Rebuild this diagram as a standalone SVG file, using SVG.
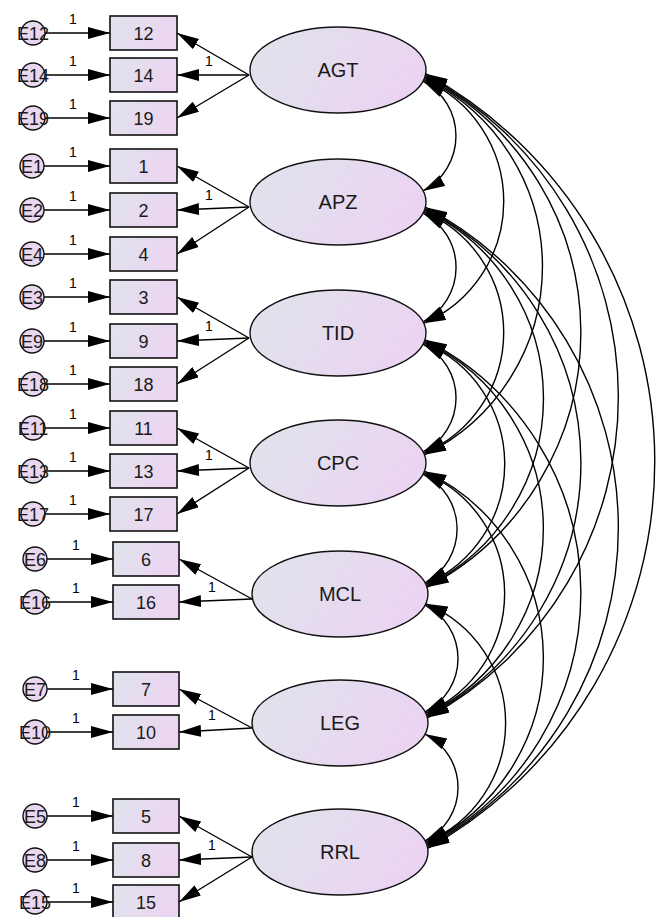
<svg xmlns="http://www.w3.org/2000/svg" width="659" height="917" viewBox="0 0 659 917">
<defs>
<linearGradient id="gb" x1="0" y1="0" x2="1" y2="0.3">
<stop offset="0" stop-color="#dfe4ed"/><stop offset="1" stop-color="#ecd5f1"/>
</linearGradient>
<linearGradient id="ge" x1="0" y1="0" x2="1" y2="0.3">
<stop offset="0" stop-color="#dfe4eb"/><stop offset="1" stop-color="#ebd4f2"/>
</linearGradient>
<marker id="ah" viewBox="0 0 22 12" refX="22" refY="6" markerWidth="22" markerHeight="12" markerUnits="userSpaceOnUse" orient="auto-start-reverse">
<path d="M0,0 L22,6 L0,12 z" fill="#000"/>
</marker>
</defs>
<style>
.box{fill:url(#gb);stroke:#111;stroke-width:1.6}
.lat{fill:url(#ge);stroke:#111;stroke-width:1.4}
.err{fill:#e9d6ef;stroke:#111;stroke-width:1.4}
.t{font-family:"Liberation Sans",Arial,sans-serif;fill:#1a1a1a;text-anchor:middle}
.bt{font-size:18px}
.lt{font-size:20px}
.et{font-size:18px}
.one{font-family:"Liberation Sans",Arial,sans-serif;font-size:14px;fill:#000;text-anchor:middle}
.ar{fill:none;stroke:#000;stroke-width:1.4;marker-end:url(#ah)}
.cv{fill:none;stroke:#000;stroke-width:1.4;marker-start:url(#ah);marker-end:url(#ah)}
</style>
<rect width="659" height="917" fill="#fff"/>

<g id="connectors">
<path class="ar" d="M45,33 H110"/><path class="ar" d="M45,75 H110"/><path class="ar" d="M45,118 H110"/>
<path class="ar" d="M44,166 H110"/><path class="ar" d="M44,210 H110"/><path class="ar" d="M44,254 H110"/>
<path class="ar" d="M44,297 H110"/><path class="ar" d="M44,341 H110"/><path class="ar" d="M45,384 H110"/>
<path class="ar" d="M45,428 H110"/><path class="ar" d="M45,471 H110"/><path class="ar" d="M45,514 H110"/>
<path class="ar" d="M47,559 H113"/><path class="ar" d="M47,602 H113"/>
<path class="ar" d="M47,689 H113"/><path class="ar" d="M47,732 H113"/>
<path class="ar" d="M47,816 H113"/><path class="ar" d="M47,860 H113"/><path class="ar" d="M47,902 H113"/>
<path class="ar" d="M249,75 L177,33"/><path class="ar" d="M249,75 L177,75"/><path class="ar" d="M249,75 L177,118"/>
<path class="ar" d="M249,207 L177,166"/><path class="ar" d="M249,207 L177,210"/><path class="ar" d="M249,207 L177,254"/>
<path class="ar" d="M249,338 L177,297"/><path class="ar" d="M249,338 L177,341"/><path class="ar" d="M249,338 L177,384"/>
<path class="ar" d="M249,468 L177,428"/><path class="ar" d="M249,468 L177,471"/><path class="ar" d="M249,468 L177,514"/>
<path class="ar" d="M252,599 L179,559"/><path class="ar" d="M252,599 L179,602"/>
<path class="ar" d="M252,728 L179,689"/><path class="ar" d="M252,728 L179,732"/>
<path class="ar" d="M252,857 L179,816"/><path class="ar" d="M252,857 L179,860"/><path class="ar" d="M252,857 L179,902"/>
<path class="cv" d="M423,81.1 A62.2,62.2 0 0 1 423,190.9"/>
<path class="cv" d="M423,213.1 A61.3,61.3 0 0 1 423,321.9"/>
<path class="cv" d="M423,344.1 A60.5,60.5 0 0 1 423,451.9"/>
<path class="cv" d="M423,474.1 A61.3,61.3 0 0 1 425,582.9"/>
<path class="cv" d="M425,605.1 A59.7,59.7 0 0 1 425,711.9"/>
<path class="cv" d="M425,734.1 A59.7,59.7 0 0 1 425,840.9"/>
<path class="cv" d="M423.7,79.7 A132.7,132.7 0 0 1 423.7,323.3"/>
<path class="cv" d="M423.7,211.7 A131.2,131.2 0 0 1 423.7,453.3"/>
<path class="cv" d="M423.7,342.7 A131.2,131.2 0 0 1 425.7,584.3"/>
<path class="cv" d="M423.7,472.7 A130.5,130.5 0 0 1 425.7,713.3"/>
<path class="cv" d="M425.7,603.7 A129,129 0 0 1 425.7,842.3"/>
<path class="cv" d="M424.4,78.2 A209.2,209.2 0 0 1 424.4,454.8"/>
<path class="cv" d="M424.4,210.2 A208.4,208.4 0 0 1 426.4,585.8"/>
<path class="cv" d="M424.4,341.2 A206.9,206.9 0 0 1 426.4,714.8"/>
<path class="cv" d="M424.4,471.2 A206.1,206.1 0 0 1 426.4,843.8"/>
<path class="cv" d="M424.9,76.7 A287.8,287.8 0 0 1 426.9,587.3"/>
<path class="cv" d="M424.9,208.7 A285.3,285.3 0 0 1 426.9,716.3"/>
<path class="cv" d="M424.9,339.7 A283.7,283.7 0 0 1 426.9,845.3"/>
<path class="cv" d="M425.3,75.2 A364.8,364.8 0 0 1 427.3,717.8"/>
<path class="cv" d="M425.3,207.2 A362.3,362.3 0 0 1 427.3,846.8"/>
<path class="cv" d="M425.7,73.7 A442.9,442.9 0 0 1 427.7,848.3"/>
<g class="one">
<text x="73" y="24">1</text><text x="73" y="66">1</text><text x="73" y="109">1</text>
<text x="73" y="157">1</text><text x="73" y="201">1</text><text x="73" y="245">1</text>
<text x="73" y="288">1</text><text x="73" y="332">1</text><text x="73" y="375">1</text>
<text x="73" y="419">1</text><text x="73" y="462">1</text><text x="73" y="505">1</text>
<text x="76" y="550">1</text><text x="76" y="593">1</text>
<text x="76" y="680">1</text><text x="76" y="723">1</text>
<text x="76" y="807">1</text><text x="76" y="851">1</text><text x="76" y="893">1</text>
<text x="209" y="66">1</text><text x="209" y="200">1</text><text x="209" y="331">1</text><text x="209" y="460">1</text>
<text x="212" y="592">1</text><text x="212" y="720">1</text><text x="212" y="850">1</text>
</g>
</g>

<g id="AGT"><ellipse class="lat" cx="338" cy="70" rx="88" ry="43"/><text class="t lt" x="338" y="77">AGT</text></g>
<g id="APZ"><ellipse class="lat" cx="338" cy="202" rx="88" ry="43"/><text class="t lt" x="338" y="209">APZ</text></g>
<g id="TID"><ellipse class="lat" cx="338" cy="333" rx="88" ry="43"/><text class="t lt" x="338" y="340">TID</text></g>
<g id="CPC"><ellipse class="lat" cx="338" cy="463" rx="88" ry="43"/><text class="t lt" x="338" y="470">CPC</text></g>
<g id="MCL"><ellipse class="lat" cx="340" cy="594" rx="88" ry="43"/><text class="t lt" x="340" y="601">MCL</text></g>
<g id="LEG"><ellipse class="lat" cx="340" cy="723" rx="88" ry="43"/><text class="t lt" x="340" y="730">LEG</text></g>
<g id="RRL"><ellipse class="lat" cx="340" cy="852" rx="88" ry="43"/><text class="t lt" x="340" y="859">RRL</text></g>

<g id="v12"><rect class="box" x="110" y="16" width="67" height="34"/><text class="t bt" x="143.5" y="39.5">12</text></g>
<g id="v14"><rect class="box" x="110" y="58" width="67" height="34"/><text class="t bt" x="143.5" y="81.5">14</text></g>
<g id="v19"><rect class="box" x="110" y="101" width="67" height="34"/><text class="t bt" x="143.5" y="124.5">19</text></g>
<g id="v1"><rect class="box" x="110" y="149" width="67" height="34"/><text class="t bt" x="143.5" y="172.5">1</text></g>
<g id="v2"><rect class="box" x="110" y="193" width="67" height="34"/><text class="t bt" x="143.5" y="216.5">2</text></g>
<g id="v4"><rect class="box" x="110" y="237" width="67" height="34"/><text class="t bt" x="143.5" y="260.5">4</text></g>
<g id="v3"><rect class="box" x="110" y="280" width="67" height="34"/><text class="t bt" x="143.5" y="303.5">3</text></g>
<g id="v9"><rect class="box" x="110" y="324" width="67" height="34"/><text class="t bt" x="143.5" y="347.5">9</text></g>
<g id="v18"><rect class="box" x="110" y="367" width="67" height="34"/><text class="t bt" x="143.5" y="390.5">18</text></g>
<g id="v11"><rect class="box" x="110" y="411" width="67" height="34"/><text class="t bt" x="143.5" y="434.5">11</text></g>
<g id="v13"><rect class="box" x="110" y="454" width="67" height="34"/><text class="t bt" x="143.5" y="477.5">13</text></g>
<g id="v17"><rect class="box" x="110" y="497" width="67" height="34"/><text class="t bt" x="143.5" y="520.5">17</text></g>
<g id="v6"><rect class="box" x="113" y="542" width="66" height="34"/><text class="t bt" x="146" y="565.5">6</text></g>
<g id="v16"><rect class="box" x="113" y="585" width="66" height="34"/><text class="t bt" x="146" y="608.5">16</text></g>
<g id="v7"><rect class="box" x="113" y="672" width="66" height="34"/><text class="t bt" x="146" y="695.5">7</text></g>
<g id="v10"><rect class="box" x="113" y="715" width="66" height="34"/><text class="t bt" x="146" y="738.5">10</text></g>
<g id="v5"><rect class="box" x="113" y="799" width="66" height="34"/><text class="t bt" x="146" y="822.5">5</text></g>
<g id="v8"><rect class="box" x="113" y="843" width="66" height="34"/><text class="t bt" x="146" y="866.5">8</text></g>
<g id="v15"><rect class="box" x="113" y="885" width="66" height="34"/><text class="t bt" x="146" y="908.5">15</text></g>

<g id="E12"><circle class="err" cx="33" cy="33" r="12"/><text class="t et" x="33" y="39.5">E12</text></g>
<g id="E14"><circle class="err" cx="33" cy="75" r="12"/><text class="t et" x="33" y="81.5">E14</text></g>
<g id="E19"><circle class="err" cx="33" cy="118" r="12"/><text class="t et" x="33" y="124.5">E19</text></g>
<g id="E1"><circle class="err" cx="32" cy="166" r="12"/><text class="t et" x="32" y="172.5">E1</text></g>
<g id="E2"><circle class="err" cx="32" cy="210" r="12"/><text class="t et" x="32" y="216.5">E2</text></g>
<g id="E4"><circle class="err" cx="32" cy="254" r="12"/><text class="t et" x="32" y="260.5">E4</text></g>
<g id="E3"><circle class="err" cx="32" cy="297" r="12"/><text class="t et" x="32" y="303.5">E3</text></g>
<g id="E9"><circle class="err" cx="32" cy="341" r="12"/><text class="t et" x="32" y="347.5">E9</text></g>
<g id="E18"><circle class="err" cx="33" cy="384" r="12"/><text class="t et" x="33" y="390.5">E18</text></g>
<g id="E11"><circle class="err" cx="33" cy="428" r="12"/><text class="t et" x="33" y="434.5">E11</text></g>
<g id="E13"><circle class="err" cx="33" cy="471" r="12"/><text class="t et" x="33" y="477.5">E13</text></g>
<g id="E17"><circle class="err" cx="33" cy="514" r="12"/><text class="t et" x="33" y="520.5">E17</text></g>
<g id="E6"><circle class="err" cx="35" cy="559" r="12"/><text class="t et" x="35" y="565.5">E6</text></g>
<g id="E16"><circle class="err" cx="35" cy="602" r="12"/><text class="t et" x="35" y="608.5">E16</text></g>
<g id="E7"><circle class="err" cx="35" cy="689" r="12"/><text class="t et" x="35" y="695.5">E7</text></g>
<g id="E10"><circle class="err" cx="35" cy="732" r="12"/><text class="t et" x="35" y="738.5">E10</text></g>
<g id="E5"><circle class="err" cx="35" cy="816" r="12"/><text class="t et" x="35" y="822.5">E5</text></g>
<g id="E8"><circle class="err" cx="35" cy="860" r="12"/><text class="t et" x="35" y="866.5">E8</text></g>
<g id="E15"><circle class="err" cx="35" cy="902" r="12"/><text class="t et" x="35" y="908.5">E15</text></g>
</svg>
